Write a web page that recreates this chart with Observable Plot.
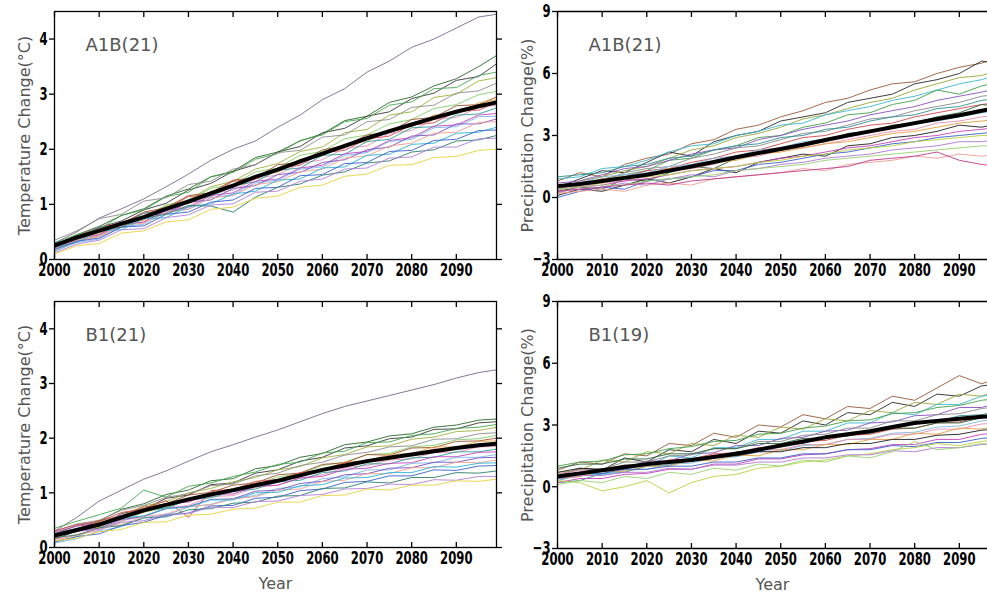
<!DOCTYPE html>
<html><head><meta charset="utf-8">
<script src="https://cdn.jsdelivr.net/npm/d3@7"></script>
<script src="https://cdn.jsdelivr.net/npm/@observablehq/plot@0.6"></script>
<style>
html,body{margin:0;padding:0;background:#fff;overflow:hidden;}
#wrap{position:relative;width:987px;height:597px;overflow:hidden;background:#fff;}
.panel{position:absolute;}
.panel svg{max-width:none;background:transparent;display:block;}
g[aria-label="ylab"]{letter-spacing:3.3px;}
g[aria-label="tag"]{letter-spacing:0.8px;}
g[aria-label="year"]{letter-spacing:1.5px;}
</style></head><body><div id="wrap"></div>
<script>
const YEARS = [2000,2005,2010,2015,2020,2025,2030,2035,2040,2045,2050,2055,2060,2065,2070,2075,2080,2085,2090,2095,2099];
const XTICKS = [2000,2010,2020,2030,2040,2050,2060,2070,2080,2090];
const TEMP_TICKS = [0,1,2,3,4];
const PRECIP_TICKS = [-3,0,3,6,9];

// Temperature change (°C), A1B, 21 models
const tempA1B = [
[0.30,0.50,0.75,0.92,1.10,1.32,1.55,1.80,2.00,2.15,2.40,2.62,2.90,3.10,3.40,3.60,3.85,4.00,4.20,4.40,4.45],
[0.25,0.45,0.60,0.80,0.92,1.15,1.28,1.50,1.60,1.85,1.95,2.15,2.28,2.52,2.60,2.85,2.95,3.15,3.28,3.50,3.70],
[0.20,0.35,0.58,0.70,0.90,1.02,1.26,1.38,1.60,1.72,1.95,2.05,2.30,2.38,2.60,2.68,2.92,3.02,3.25,3.32,3.55],
[0.30,0.45,0.55,0.80,0.90,1.14,1.22,1.50,1.58,1.82,1.92,2.16,2.26,2.50,2.56,2.80,2.86,3.10,3.12,3.34,3.40],
[0.15,0.33,0.42,0.64,0.75,0.98,1.08,1.32,1.42,1.64,1.74,1.96,2.04,2.30,2.36,2.62,2.68,2.94,3.00,3.24,3.30],
[0.35,0.52,0.74,0.82,1.06,1.12,1.36,1.42,1.64,1.72,1.94,1.98,2.22,2.26,2.50,2.54,2.76,2.80,3.02,3.06,3.20],
[0.20,0.36,0.45,0.66,0.76,0.99,1.06,1.29,1.36,1.59,1.66,1.89,1.96,2.19,2.26,2.46,2.54,2.74,2.81,2.99,3.05],
[0.25,0.37,0.56,0.65,0.86,0.94,1.16,1.21,1.44,1.48,1.72,1.76,1.99,2.06,2.26,2.31,2.54,2.58,2.79,2.81,2.95],
[0.22,0.39,0.46,0.66,0.71,0.96,1.01,1.24,1.31,1.52,1.58,1.82,1.88,2.09,2.14,2.36,2.41,2.62,2.66,2.84,2.90],
[0.28,0.42,0.59,0.66,0.84,0.91,1.14,1.18,1.42,1.46,1.66,1.71,1.94,1.98,2.19,2.24,2.44,2.48,2.69,2.71,2.85],
[0.18,0.34,0.42,0.62,0.68,0.92,0.96,1.19,1.26,1.46,1.54,1.74,1.81,2.02,2.06,2.29,2.34,2.54,2.58,2.76,2.80],
[0.30,0.39,0.59,0.62,0.84,0.88,1.09,1.14,1.34,1.41,1.62,1.66,1.89,1.91,2.14,2.18,2.39,2.41,2.62,2.64,2.75],
[0.20,0.38,0.45,0.64,0.68,0.89,0.94,1.16,1.21,1.42,1.46,1.66,1.71,1.92,1.96,2.16,2.21,2.42,2.44,2.62,2.65],
[0.15,0.31,0.37,0.59,0.64,0.86,0.91,1.12,1.18,1.39,1.44,1.64,1.68,1.89,1.94,2.14,2.18,2.39,2.41,2.59,2.60],
[0.25,0.35,0.54,0.58,0.79,0.84,1.04,1.08,1.29,1.34,1.54,1.58,1.76,1.81,1.99,2.04,2.24,2.26,2.46,2.46,2.55],
[0.20,0.35,0.42,0.62,0.66,0.86,0.91,1.12,1.16,1.36,1.41,1.59,1.64,1.84,1.88,2.06,2.11,2.29,2.31,2.49,2.50],
[0.22,0.31,0.52,0.54,0.74,0.76,0.96,1.01,1.19,1.24,1.44,1.46,1.66,1.68,1.89,1.91,2.09,2.11,2.29,2.31,2.40],
[0.18,0.33,0.39,0.59,0.61,0.82,0.86,1.04,1.08,1.29,1.31,1.52,1.54,1.74,1.76,1.96,1.98,2.16,2.18,2.34,2.35],
[0.30,0.37,0.53,0.59,0.75,0.82,0.98,0.97,0.86,1.13,1.31,1.37,1.53,1.59,1.75,1.79,1.95,1.99,2.15,2.17,2.25],
[0.12,0.28,0.35,0.54,0.56,0.76,0.81,0.99,1.01,1.22,1.24,1.42,1.46,1.64,1.66,1.84,1.86,2.04,2.04,2.19,2.20],
[0.10,0.25,0.29,0.48,0.52,0.68,0.72,0.91,0.95,1.11,1.15,1.31,1.35,1.51,1.55,1.71,1.72,1.85,1.87,1.98,2.00]
];
const tempA1BMean = [0.25,0.40,0.52,0.65,0.77,0.92,1.05,1.20,1.34,1.50,1.63,1.78,1.92,2.06,2.20,2.33,2.45,2.57,2.68,2.78,2.85];

// Precipitation change (%), A1B, 21 models
const precipA1B = [
[0.8,1.2,1.0,1.6,1.9,2.1,2.6,2.8,3.3,3.5,3.9,4.2,4.6,4.8,5.2,5.5,5.6,6.0,6.3,6.5,6.8],
[0.5,0.9,1.3,1.2,1.7,2.2,2.0,2.7,3.0,3.2,3.7,3.9,4.1,4.6,4.8,5.0,5.5,5.7,6.0,6.6,6.5],
[0.3,0.8,1.0,1.3,1.5,1.9,2.3,2.5,2.9,3.1,3.4,3.8,4.0,4.3,4.6,4.8,5.2,5.5,5.8,5.9,6.2],
[0.9,1.0,1.4,1.5,1.8,2.2,2.5,2.6,3.0,3.2,3.5,3.6,4.0,4.2,4.4,4.7,4.9,5.2,5.5,5.7,6.0],
[0.2,0.6,0.9,1.1,1.3,1.8,1.9,2.3,2.5,2.9,3.0,3.4,3.6,4.0,4.1,4.5,4.7,5.2,5.0,5.4,5.6],
[0.7,0.8,1.1,1.4,1.5,1.8,2.1,2.3,2.4,2.8,3.0,3.3,3.5,3.7,4.0,4.2,4.4,4.7,4.9,5.1,5.3],
[0.4,0.7,0.8,1.2,1.4,1.5,1.9,2.1,2.4,2.5,2.8,3.1,3.2,3.5,3.8,3.9,4.2,4.4,4.6,4.9,5.0],
[1.0,1.1,1.2,1.5,1.6,1.9,2.0,2.3,2.5,2.6,2.9,3.0,3.3,3.4,3.7,3.9,4.0,4.3,4.4,4.7,4.8],
[0.5,0.6,0.9,1.0,1.3,1.4,1.7,1.9,2.2,2.3,2.6,2.9,3.0,3.3,3.5,3.6,3.9,4.1,4.3,4.5,4.6],
[0.3,0.5,0.4,0.9,0.8,1.2,1.5,1.4,1.9,2.1,2.4,2.6,2.7,3.1,3.2,3.5,3.6,3.9,4.1,4.5,4.4],
[0.6,0.7,1.0,1.1,1.2,1.5,1.6,1.9,2.0,2.3,2.4,2.7,2.8,3.0,3.2,3.4,3.6,3.7,3.9,4.1,4.2],
[0.2,0.5,0.7,0.8,1.0,1.3,1.4,1.6,1.9,2.0,2.3,2.4,2.6,2.8,3.0,3.2,3.3,3.6,3.7,3.9,4.0],
[0.6,0.6,0.9,1.0,1.1,1.4,1.5,1.7,1.8,2.1,2.2,2.4,2.6,2.7,2.9,3.1,3.2,3.4,3.6,3.7,3.8],
[0.1,0.4,0.3,0.6,0.9,0.7,1.0,1.4,1.2,1.7,1.9,2.1,2.0,2.5,2.6,2.9,3.0,3.2,3.5,3.4,3.6],
[0.4,0.5,0.6,0.8,0.9,1.1,1.3,1.4,1.5,1.7,1.9,2.0,2.2,2.4,2.5,2.7,2.9,3.0,3.2,3.3,3.4],
[0.0,0.3,0.5,0.4,0.8,0.9,1.0,1.3,1.3,1.6,1.7,1.9,2.1,2.2,2.4,2.6,2.7,2.9,3.0,3.1,3.2],
[0.5,0.6,0.7,0.9,1.0,1.1,1.3,1.4,1.5,1.7,1.8,2.0,2.1,2.3,2.4,2.5,2.7,2.8,2.9,3.0,3.0],
[0.3,0.4,0.5,0.7,0.6,0.9,1.1,1.0,1.3,1.4,1.6,1.7,1.9,2.0,2.1,2.3,2.4,2.5,2.7,2.7,2.8],
[0.4,0.5,0.6,0.6,0.8,0.9,1.0,1.1,1.3,1.4,1.5,1.6,1.8,1.9,2.0,2.1,2.2,2.3,2.4,2.5,2.5],
[0.2,0.3,0.4,0.3,0.6,0.7,0.6,0.9,1.0,1.1,1.2,1.4,1.3,1.6,1.7,1.8,2.0,1.9,2.1,2.0,2.1],
[0.3,0.4,0.5,0.6,0.7,0.6,0.8,0.9,1.0,1.1,1.2,1.3,1.4,1.5,1.8,1.9,2.0,2.2,1.8,1.6,1.5]
];
const precipA1BMean = [0.55,0.65,0.80,0.95,1.10,1.30,1.50,1.72,1.95,2.15,2.35,2.55,2.78,3.00,3.20,3.40,3.60,3.80,3.98,4.20,4.35];

// Temperature change (°C), B1, 21 models
const tempB1 = [
[0.30,0.55,0.85,1.05,1.25,1.40,1.58,1.75,1.88,2.02,2.15,2.30,2.45,2.58,2.68,2.78,2.88,2.98,3.10,3.20,3.25],
[0.25,0.40,0.48,0.70,0.80,0.97,1.05,1.22,1.26,1.44,1.50,1.65,1.72,1.88,1.93,2.04,2.08,2.20,2.24,2.33,2.35],
[0.15,0.30,0.38,0.62,0.70,0.90,0.96,1.15,1.18,1.36,1.42,1.58,1.65,1.82,1.86,1.99,2.02,2.16,2.17,2.28,2.30],
[0.35,0.48,0.60,0.72,1.05,0.92,1.12,1.18,1.30,1.38,1.52,1.56,1.73,1.76,1.92,1.93,2.05,2.08,2.18,2.20,2.25],
[0.20,0.30,0.46,0.58,0.76,0.84,1.00,1.08,1.20,1.28,1.42,1.48,1.64,1.70,1.84,1.86,1.98,2.02,2.12,2.14,2.20],
[0.30,0.43,0.50,0.68,0.77,0.92,0.98,1.13,1.16,1.31,1.36,1.50,1.56,1.69,1.74,1.84,1.86,1.98,1.99,2.08,2.10],
[0.10,0.20,0.36,0.47,0.65,0.72,0.88,0.96,1.08,1.15,1.29,1.35,1.50,1.56,1.70,1.72,1.84,1.87,1.97,1.99,2.05],
[0.25,0.34,0.49,0.58,0.74,0.80,0.96,1.01,1.14,1.18,1.33,1.36,1.52,1.55,1.70,1.69,1.82,1.83,1.94,1.95,2.00],
[0.18,0.31,0.37,0.55,0.64,0.79,0.85,1.00,1.03,1.18,1.22,1.36,1.42,1.56,1.59,1.70,1.72,1.84,1.84,1.94,1.95],
[0.30,0.42,0.47,0.64,0.71,0.86,0.55,1.04,1.06,1.21,1.24,1.37,1.42,1.55,1.58,1.67,1.69,1.80,1.80,1.89,1.90],
[0.12,0.24,0.31,0.49,0.57,0.72,0.77,0.93,0.95,1.10,1.14,1.27,1.33,1.46,1.50,1.60,1.62,1.74,1.74,1.84,1.85],
[0.22,0.29,0.44,0.52,0.68,0.72,0.87,0.91,1.02,1.07,1.20,1.23,1.37,1.40,1.53,1.53,1.64,1.65,1.75,1.75,1.80],
[0.28,0.39,0.44,0.59,0.66,0.80,0.83,0.97,0.98,1.12,1.14,1.27,1.30,1.43,1.45,1.54,1.55,1.66,1.66,1.74,1.75],
[0.08,0.16,0.30,0.38,0.55,0.59,0.74,0.79,0.90,0.95,1.08,1.11,1.26,1.29,1.42,1.42,1.54,1.55,1.65,1.65,1.70],
[0.20,0.31,0.35,0.51,0.57,0.71,0.75,0.88,0.89,1.03,1.05,1.17,1.21,1.33,1.35,1.45,1.46,1.56,1.56,1.64,1.65],
[0.15,0.22,0.35,0.42,0.57,0.61,0.75,0.78,0.89,0.93,1.05,1.07,1.21,1.23,1.35,1.35,1.46,1.46,1.56,1.55,1.60],
[0.25,0.35,0.39,0.53,0.58,0.71,0.74,0.87,0.87,1.00,1.01,1.13,1.15,1.27,1.28,1.37,1.37,1.48,1.47,1.54,1.55],
[0.10,0.20,0.25,0.40,0.46,0.59,0.63,0.76,0.77,0.90,0.92,1.04,1.07,1.19,1.21,1.31,1.31,1.42,1.41,1.49,1.50],
[0.18,0.23,0.36,0.40,0.54,0.56,0.69,0.71,0.81,0.83,0.94,0.95,1.08,1.09,1.20,1.18,1.28,1.28,1.37,1.36,1.40],
[0.22,0.30,0.33,0.46,0.49,0.61,0.62,0.74,0.73,0.84,0.85,0.95,0.97,1.07,1.08,1.16,1.15,1.24,1.23,1.30,1.30],
[0.12,0.17,0.29,0.33,0.46,0.47,0.59,0.61,0.70,0.72,0.83,0.83,0.95,0.96,1.07,1.05,1.14,1.14,1.22,1.21,1.25]
];
const tempB1Mean = [0.22,0.32,0.42,0.55,0.68,0.78,0.88,0.97,1.05,1.14,1.22,1.32,1.42,1.50,1.58,1.64,1.70,1.76,1.82,1.87,1.90];

// Precipitation change (%), B1, 19 models
const precipB1 = [
[0.8,1.2,1.1,1.6,1.5,2.1,2.0,2.6,2.4,3.0,2.9,3.5,3.3,3.9,3.8,4.4,4.2,4.8,5.4,5.0,5.3],
[0.5,0.9,0.8,1.4,1.2,1.8,1.7,2.3,2.1,2.7,2.6,3.2,3.0,3.6,3.5,4.1,3.9,4.5,4.4,4.9,5.0],
[0.7,0.8,1.3,1.2,1.7,1.6,2.1,2.0,2.5,2.4,2.9,2.8,3.3,3.2,3.7,3.6,4.1,4.0,4.5,4.4,4.7],
[0.3,0.6,0.6,1.0,1.0,1.5,1.4,1.9,1.9,2.3,2.3,2.7,2.7,3.1,3.1,3.6,3.5,4.0,4.0,4.4,4.5],
[1.0,1.2,1.25,1.55,1.6,1.85,1.95,2.2,2.25,2.55,2.6,2.85,2.95,3.2,3.25,3.55,3.6,3.85,3.95,4.2,4.3],
[0.4,0.5,0.85,0.9,1.25,1.25,1.6,1.65,2.0,2.0,2.35,2.4,2.7,2.75,3.1,3.15,3.45,3.5,3.85,3.85,4.1],
[0.6,0.85,0.85,1.2,1.2,1.5,1.55,1.85,1.85,2.2,2.2,2.5,2.55,2.85,2.85,3.2,3.2,3.5,3.55,3.8,3.9],
[0.2,0.3,0.65,0.7,1.0,1.05,1.35,1.4,1.7,1.75,2.05,2.1,2.4,2.45,2.75,2.8,3.1,3.15,3.45,3.5,3.7],
[0.5,0.7,0.75,1.0,1.05,1.3,1.35,1.6,1.65,1.9,1.95,2.2,2.25,2.5,2.55,2.8,2.85,3.1,3.15,3.4,3.5],
[0.9,1.1,1.1,1.35,1.35,1.6,1.6,1.85,1.85,2.1,2.1,2.35,2.35,2.6,2.6,2.85,2.85,3.1,3.1,3.35,3.4],
[0.3,0.55,0.55,0.8,0.85,1.1,1.15,1.4,1.45,1.7,1.75,2.0,2.05,2.3,2.35,2.6,2.65,2.9,2.95,3.2,3.3],
[0.6,0.8,0.8,1.05,1.05,1.3,1.3,1.55,1.55,1.8,1.8,2.05,2.05,2.3,2.3,2.55,2.55,2.8,2.8,3.05,3.1],
[0.4,0.5,0.75,0.75,1.0,1.0,1.3,1.25,1.55,1.5,1.8,1.8,2.05,2.05,2.3,2.3,2.6,2.55,2.85,2.8,3.0],
[0.7,0.9,0.85,1.05,1.05,1.25,1.25,1.5,1.5,1.7,1.7,1.9,1.9,2.1,2.1,2.3,2.3,2.5,2.55,2.75,2.8],
[0.2,0.4,0.4,0.6,0.65,0.85,0.85,1.1,1.1,1.35,1.35,1.55,1.6,1.8,1.85,2.05,2.05,2.3,2.3,2.55,2.6],
[0.5,0.65,0.65,0.85,0.85,1.0,1.0,1.2,1.2,1.4,1.4,1.6,1.6,1.8,1.8,2.0,1.95,2.15,2.15,2.35,2.4],
[0.3,0.2,-0.2,0.0,0.3,-0.3,0.2,0.5,0.6,0.9,1.0,1.2,1.3,1.5,1.6,1.8,1.9,2.1,2.0,2.2,2.3],
[0.4,0.55,0.55,0.7,0.7,0.9,0.85,1.05,1.05,1.2,1.2,1.4,1.4,1.55,1.55,1.75,1.7,1.9,1.9,2.05,2.1],
[0.1,0.3,0.2,0.5,0.4,0.7,0.6,0.9,0.8,1.1,1.0,1.3,1.2,1.5,1.4,1.7,2.2,1.8,1.9,2.1,2.0]
];
const precipB1Mean = [0.5,0.65,0.8,0.95,1.1,1.2,1.3,1.45,1.6,1.8,2.0,2.2,2.4,2.55,2.7,2.9,3.1,3.2,3.3,3.4,3.45];

const PALETTE_T = ["#7a6a8e","#2b6a2b","#3a3a3a","#46a84f","#9fb23c","#8e8e8e","#7fd06c","#a0522d","#e2a445","#d44b4b","#e890b0","#2f9e9e","#c544c0","#79b8e8","#7a52c4","#f2a08f","#2ab4d8","#3b62cc","#2e7e6c","#b67ed8","#e8d43e"];
const PALETTE_P = ["#9a5a3a","#2a2a2a","#98a83a","#3ab8d0","#44a04a","#8a52c0","#8a8a8a","#2f9090","#d04848","#2a6a3a","#80b8e0","#e890b0","#e6a040","#1e1e1e","#c840b8","#3b62cc","#b8d040","#b07ad0","#98d070","#f0a090","#c03c8c"];

const TICK_FONT = '"DejaVu Sans Condensed","DejaVu Sans",sans-serif';
const LABEL_FONT = '"DejaVu Sans",sans-serif';

function squeezeTickLabels(svg, sx) {
  d3.select(svg).selectAll('g[aria-label$="tick label"] text').each(function () {
    const t = this.getAttribute("transform");
    if (t) {
      this.setAttribute("transform", t + ` scale(${sx},1)`);
    } else {
      const x = +this.getAttribute("x") || 0, y = +this.getAttribute("y") || 0;
      this.removeAttribute("x"); this.removeAttribute("y");
      this.setAttribute("transform", `translate(${x},${y}) scale(${sx},1)`);
    }
  });
}

function makePanel(cfg) {
  const data = cfg.series.flatMap((vals, m) => vals.map((v, i) => ({model: m, year: YEARS[i], value: v})));
  const meanData = cfg.mean.map((v, i) => ({year: YEARS[i], value: v}));
  const tickText = {fontSize: 18, fontWeight: "bold", fontFamily: TICK_FONT, fill: "#000"};
  const labelText = {fontFamily: LABEL_FONT, fontWeight: "normal", fill: "#555"};
  const marks = [
    Plot.line(data, {x: "year", y: "value", z: "model", stroke: "model", strokeWidth: 1, strokeOpacity: 0.9, clip: true}),
    Plot.line(meanData, {x: "year", y: "value", stroke: "#000", strokeWidth: 4, clip: true}),
  ];
  if (cfg.isRight) {
    marks.push(Plot.ruleY([cfg.yDomain[0], cfg.yDomain[1]], {stroke: "#000", strokeWidth: 1.3}));
    marks.push(Plot.ruleX([2000], {stroke: "#000", strokeWidth: 1.3}));
  } else {
    marks.push(Plot.frame({stroke: "#000", strokeWidth: 1.3}));
    marks.push(Plot.axisY({anchor: "right", ticks: cfg.yTicks, tickSize: 5, tickFormat: () => "", label: null, strokeWidth: 1.3}));
  }
  marks.push(
    Plot.axisX({anchor: "bottom", ticks: XTICKS, tickSize: -5, tickPadding: 9, tickFormat: "d", label: null, strokeWidth: 1.3, ...tickText}),
    Plot.axisX({anchor: "top", ticks: XTICKS, tickSize: -5, tickFormat: () => "", label: null, strokeWidth: 1.3}),
    Plot.axisY({anchor: "left", ticks: cfg.yTicks, tickSize: 5, tickPadding: 2, tickFormat: "d", label: null, strokeWidth: 1.3, ...tickText}),
    Plot.text([cfg.yLabel], {frameAnchor: "left", textAnchor: "middle", dx: -30, rotate: -90, fontSize: 16, ariaLabel: "ylab", ...labelText}),
    Plot.text([cfg.tag], {frameAnchor: "top-left", dx: 31, dy: 27, textAnchor: "start", fontSize: 18, ariaLabel: "tag", ...labelText})
  );
  if (cfg.showYear) marks.push(Plot.text(["Year"], {frameAnchor: "bottom", dy: 41, fontSize: 16, ariaLabel: "year", ...labelText}));
  const svg = Plot.plot({
    width: cfg.width, height: cfg.height,
    marginLeft: cfg.ml, marginRight: cfg.mr, marginTop: cfg.mt, marginBottom: cfg.mb,
    x: cfg.xRange ? {domain: [2000, 2099], range: cfg.xRange} : {domain: [2000, 2099]},
    y: {domain: cfg.yDomain},
    color: {type: "ordinal", domain: d3.range(cfg.series.length), range: cfg.palette},
    style: {background: "transparent", fontFamily: TICK_FONT, overflow: "visible"},
    marks
  });
  squeezeTickLabels(svg, 0.72);
  const div = document.createElement("div");
  div.className = "panel";
  div.style.left = cfg.left + "px";
  div.style.top = cfg.top + "px";
  div.style.width = cfg.width + "px";
  div.style.height = cfg.height + "px";
  div.appendChild(svg);
  document.getElementById("wrap").appendChild(div);
}

makePanel({series: tempA1B, mean: tempA1BMean, palette: PALETTE_T, yDomain: [0, 4.5], yTicks: TEMP_TICKS,
  yLabel: "Temperature Change(°C)", tag: "A1B(21)", left: 0, top: 0, width: 505, height: 290,
  ml: 54, mr: 9, mt: 11, mb: 31});
makePanel({series: precipA1B, mean: precipA1BMean, palette: PALETTE_P, yDomain: [-3, 9], yTicks: PRECIP_TICKS,
  yLabel: "Precipitation Change(%)", tag: "A1B(21)", left: 505, top: 0, width: 482, height: 290,
  ml: 52, mr: 0, mt: 11, mb: 31, xRange: [52, 494], isRight: true});
makePanel({series: tempB1, mean: tempB1Mean, palette: PALETTE_T, yDomain: [0, 4.5], yTicks: TEMP_TICKS,
  yLabel: "Temperature Change(°C)", tag: "B1(21)", left: 0, top: 290, width: 505, height: 307,
  ml: 54, mr: 9, mt: 11, mb: 50, showYear: true});
makePanel({series: precipB1, mean: precipB1Mean, palette: PALETTE_P, yDomain: [-3, 9], yTicks: PRECIP_TICKS,
  yLabel: "Precipitation Change(%)", tag: "B1(19)", left: 505, top: 290, width: 482, height: 307,
  ml: 52, mr: 0, mt: 11, mb: 49, xRange: [52, 494], isRight: true, showYear: true});
</script></body></html>
